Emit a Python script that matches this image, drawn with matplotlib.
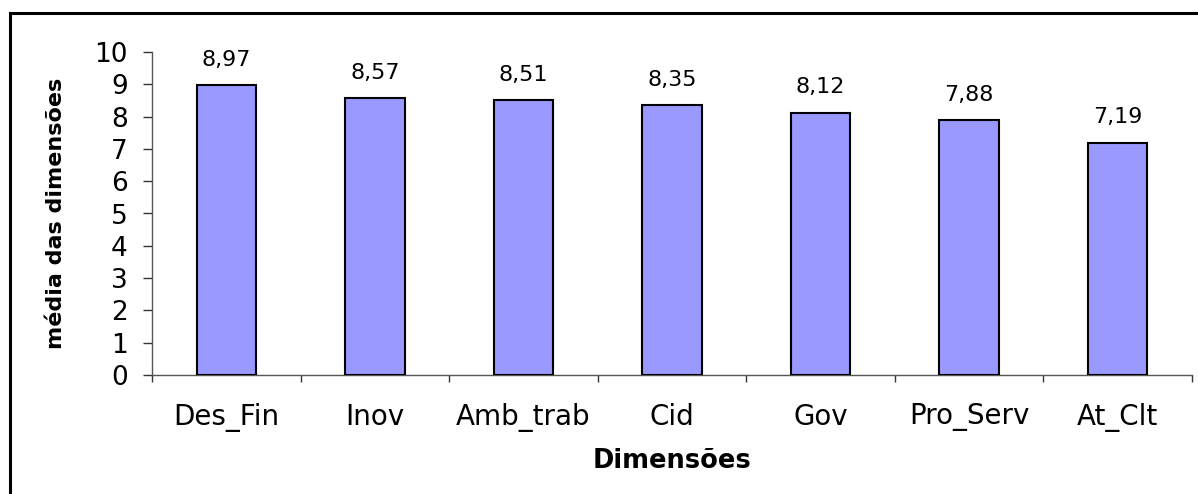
import matplotlib
matplotlib.use("Agg")
import matplotlib.pyplot as plt
from matplotlib.patches import Rectangle
import numpy as np

categories = ["Des_Fin", "Inov", "Amb_trab", "Cid", "Gov", "Pro_Serv", "At_Clt"]
values = [8.97, 8.57, 8.51, 8.35, 8.12, 7.88, 7.19]
value_labels = ["8,97", "8,57", "8,51", "8,35", "8,12", "7,88", "7,19"]
y_ticks = list(range(0, 11))

W, H = 1198, 494
plt.rcParams['font.family'] = ['DejaVu Sans']
fig = plt.figure(figsize=(W / 100, H / 100), dpi=100)

left, right, bottom, top = 152, 1192, 375, 52
ax = fig.add_axes([left / W, 1 - bottom / H, (right - left) / W, (bottom - top) / H])

x = np.arange(len(categories))
ax.bar(x, values, width=0.4, color="#9999FF", edgecolor="black", linewidth=1.5, zorder=3)

for xi, v, lab in zip(x, values, value_labels):
    ax.annotate(lab, (xi, v), xytext=(0, 14), textcoords="offset points",
                ha="center", va="baseline", fontsize=16, color="black")

ax.set_xlim(-0.5, len(categories) - 0.5)
ax.set_ylim(0, 10)
ax.set_yticks(y_ticks)
ax.set_yticklabels([str(t) for t in y_ticks], fontsize=19)
ax.set_xticks(x)
ax.set_xticklabels(categories, fontsize=20)
ax.set_xticks(np.arange(-0.5, len(categories)), minor=True)
ax.tick_params(axis="x", which="major", length=0, pad=20)
ax.tick_params(axis="x", which="minor", length=5, width=1, color="#333333", direction="out")
ax.tick_params(axis="y", which="major", length=6.5, width=1, color="#333333", direction="out", pad=11)

for s in ["top", "right"]:
    ax.spines[s].set_visible(False)
for s in ["left", "bottom"]:
    ax.spines[s].set_color("#555555")
    ax.spines[s].set_linewidth(1)

fig.text(672 / W, 1 - 468 / H, "Dimensões", ha="center", va="baseline",
         fontsize=18.5, fontweight="bold")
fig.text(56 / W, 1 - 213 / H, "média das dimensões", ha="center", va="center",
         rotation=90, fontsize=16, fontweight="bold")

frame = Rectangle((10 / W, -0.2), 1.5, (1 - 13 / H) + 0.2, transform=fig.transFigure,
                  fill=False, edgecolor="black", linewidth=2.2)
fig.add_artist(frame)

fig.savefig("out.png", dpi=100)
